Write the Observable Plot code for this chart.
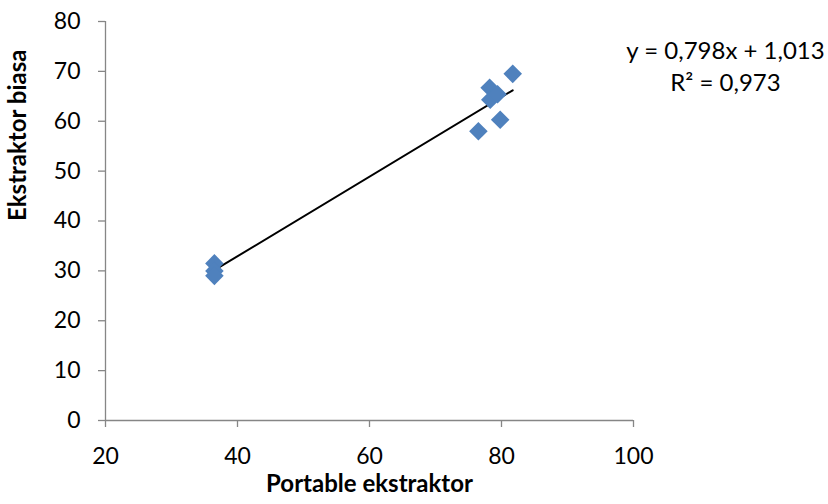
<!DOCTYPE html>
<html>
<head>
<meta charset="utf-8">
<script src="https://cdn.jsdelivr.net/npm/d3@7"></script>
<script src="https://cdn.jsdelivr.net/npm/@observablehq/plot@0.6"></script>
<style>
  html, body { margin: 0; padding: 0; background: #fff; }
  #chart svg { display: block; }
</style>
</head>
<body>
<div id="chart"></div>
<script>
// Data
const portable = [36.5, 36.5, 36.5, 76.5, 78.2, 78.3, 79.4, 79.8, 81.7];
const biasa    = [31.5, 30.0, 29.0, 58.0, 66.7, 64.3, 65.4, 60.3, 69.5];
const slope = 0.798;
const intercept = 1.013;
const r2 = 0.973;
const xTicks = [20, 40, 60, 80, 100];
const yTicks = [0, 10, 20, 30, 40, 50, 60, 70, 80];
const xLabel = "Portable ekstraktor";
const yLabel = "Ekstraktor biasa";

const points = portable.map((x, i) => ({x, y: biasa[i]}));
const xMin = d3.min(portable), xMax = d3.max(portable);
const trend = [xMin, xMax].map(x => ({x, y: slope * x + intercept}));
const fmt = v => v.toFixed(3).replace(".", ",");
const eqText = `y = ${fmt(slope)}x + ${fmt(intercept)}\nR² = ${fmt(r2)}`;

const axisColor = "#868686";
const font = "Lato, 'Open Sans', sans-serif";

const chart = Plot.plot({
  width: 828,
  height: 504,
  marginLeft: 105,
  marginRight: 195,
  marginTop: 21,
  marginBottom: 84,
  style: {fontFamily: font, fontSize: "23px", color: "#000", background: "#fff"},
  x: {domain: [20, 100]},
  y: {domain: [0, 80]},
  marks: [
    Plot.ruleX([20], {stroke: axisColor, strokeWidth: 1.3}),
    Plot.ruleY([0], {stroke: axisColor, strokeWidth: 1.3}),
    Plot.axisY({ticks: yTicks, tickSize: 7, tickPadding: 18, stroke: axisColor, strokeWidth: 1.3, fill: "#000", fontSize: 23, label: null, tickFormat: d => d}),
    Plot.axisX({ticks: xTicks, tickSize: 7, tickPadding: 20, stroke: axisColor, strokeWidth: 1.3, fill: "#000", fontSize: 23, label: null, tickFormat: d => d}),
    Plot.text([yLabel], {frameAnchor: "left", rotate: -90, dx: -87, fontWeight: "bold", fontSize: 24, fill: "#000"}),
    Plot.text([xLabel], {frameAnchor: "bottom", dy: 71, fontWeight: "bold", fontSize: 24, fill: "#000"}),
    Plot.line(trend, {x: "x", y: "y", stroke: "#000", strokeWidth: 2}),
    Plot.dot(points, {x: "x", y: "y", symbol: "square", rotate: 45, r: 7.4, fill: "#4F81BD", stroke: "none"}),
    Plot.text([eqText], {frameAnchor: "top-right", dx: 92, dy: 43, textAnchor: "middle", lineAnchor: "middle", lineHeight: 1.36, fontSize: 24, fill: "#000"})
  ]
});
document.getElementById("chart").appendChild(chart);
</script>
</body>
</html>
